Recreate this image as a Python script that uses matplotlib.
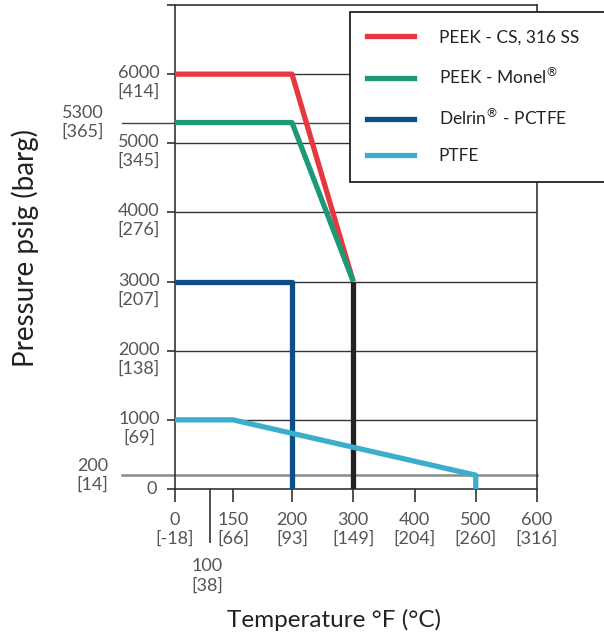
import numpy as np
import matplotlib.pyplot as plt
from matplotlib.lines import Line2D

plt.rcParams['font.family'] = ['Lato', 'DejaVu Sans']

# pressure (psig) vs temperature (F) ratings
peek_cs_temp = [0, 200, 300]
peek_cs_psi = [6000, 6000, 3000]
peek_monel_temp = [0, 200, 300]
peek_monel_psi = [5300, 5300, 3000]
peek_drop_temp = [300, 300]
peek_drop_psi = [3000, 0]
delrin_temp = [0, 200, 200]
delrin_psi = [3000, 3000, 0]
ptfe_temp = [0, 150, 500, 500]
ptfe_psi = [1000, 1000, 200, 0]

x_ticks_f = [0, 100, 150, 200, 300, 400, 500, 600]
x_ticks_c = [-18, 38, 66, 93, 149, 204, 260, 316]
y_ticks_psi = [1000, 2000, 3000, 4000, 5000, 6000]
y_ticks_bar = [69, 138, 207, 276, 345, 414]
extra_psi = [5300, 200]
extra_bar = [365, 14]

labels = ["PEEK - CS, 316 SS", r"PEEK - Monel$^{\circledR}$",
          r"Delrin$^{\circledR}$ - PCTFE", "PTFE"]
colors = ["#e8383f", "#1c9a78", "#0b4f86", "#3caecb"]

# the drawing squeezes the low end of the temperature axis
scale_temp = [-600, 0, 100, 150, 200, 600, 1200]
scale_pos = [-210, 0, 35, 58, 117, 362, 730]


def fwd(x):
    return np.interp(x, scale_temp, scale_pos)


def inv(p):
    return np.interp(p, scale_pos, scale_temp)


fig = plt.figure(figsize=(6.04, 6.40), dpi=100)
ax = fig.add_axes([175 / 604, 1 - 489 / 640, 362 / 604, 484 / 640])
ax.set_xscale('function', functions=(fwd, inv))
ax.set_xlim(0, 600)
ax.set_ylim(0, 7000)

# grid lines
for v in y_ticks_psi:
    ax.axhline(v, color="#333333", lw=1.0, zorder=1)
ax.axhline(5300, xmin=-0.146, xmax=1, color="#444444", lw=1.0, clip_on=False, zorder=1)
ax.axhline(200, xmin=-0.146, xmax=1, color="#8a8a8a", lw=1.8, clip_on=False, zorder=1)

lw = 3.8
ax.plot(peek_cs_temp, peek_cs_psi, color=colors[0], lw=lw, zorder=3, solid_capstyle='butt')
ax.plot(peek_monel_temp, peek_monel_psi, color=colors[1], lw=lw, zorder=3, solid_capstyle='butt')
ax.plot(peek_drop_temp, peek_drop_psi, color="#222222", lw=lw, zorder=3, solid_capstyle='butt')
ax.plot(delrin_temp, delrin_psi, color=colors[2], lw=lw, zorder=3, solid_capstyle='butt')
ax.plot(ptfe_temp, ptfe_psi, color=colors[3], lw=lw, zorder=3, solid_capstyle='butt')

for s in ax.spines.values():
    s.set_color("#333333")
    s.set_linewidth(1.2)

tick_col = "#555555"
fs = 13
ax.set_yticks(list(range(0, 7001, 1000)))
ax.set_yticklabels([])
ax.tick_params(axis='y', length=5.8, width=1.2, color="#333333")

xlabels = ["%d\n[%d]" % (f, c) for f, c in zip(x_ticks_f, x_ticks_c)]
xlabels[1] = ""
ax.set_xticks(x_ticks_f, xlabels)
ax.xaxis.set_minor_locator(plt.NullLocator())
ax.tick_params(axis='x', length=9.4, width=1.2, color="#333333",
               labelsize=fs, labelcolor=tick_col, pad=7)
ax.xaxis.get_major_ticks()[1].tick1line.set_markersize(39)
# 100F label sits below its long tick
ax.annotate("%d\n[%d]" % (x_ticks_f[1], x_ticks_c[1]), xy=(x_ticks_f[1], 0),
            xycoords=('data', 'axes fraction'), xytext=(-2, -50),
            textcoords='offset points', ha='center', va='top',
            fontsize=fs, color=tick_col)

# y labels, psi with bar below
for v, b in zip(y_ticks_psi, y_ticks_bar):
    ax.annotate("%d\n[%d]" % (v, b), xy=(0, v), xycoords=('axes fraction', 'data'),
                xytext=(-11, 6.5), textcoords='offset points', ha='right', va='top',
                multialignment='center', fontsize=fs, color=tick_col)
ax.annotate("0", xy=(0, 0), xycoords=('axes fraction', 'data'),
            xytext=(-13, 0), textcoords='offset points', ha='right', va='center',
            fontsize=fs, color=tick_col)
for v, b, dx in zip(extra_psi, extra_bar, [-51, -48]):
    ax.annotate("%d\n[%d]" % (v, b), xy=(0, v), xycoords=('axes fraction', 'data'),
                xytext=(dx, 0), textcoords='offset points', ha='right', va='center',
                multialignment='center', fontsize=fs, color=tick_col)

fig.text(25 / 604, 1 - 248 / 640, "Pressure psig (barg)", rotation=90,
         ha='center', va='center', fontsize=20, color="#222222")
fig.text(334 / 604, 1 - 620 / 640, "Temperature °F (°C)",
         ha='center', va='center', fontsize=17.5, color="#222222")

handles = [Line2D([], [], color=c, lw=lw) for c in colors]
leg = ax.legend(handles, labels, loc='upper left', mode='expand',
                bbox_to_anchor=(350 / 604, 1 - 180 / 640, 300 / 604, 168 / 640),
                bbox_transform=fig.transFigure, fontsize=12.5, frameon=True,
                fancybox=False, framealpha=1, edgecolor="#222222",
                handlelength=2.7, handletextpad=1.4, labelspacing=1.18,
                borderpad=1.0, borderaxespad=0)
leg.get_frame().set_linewidth(1.3)
leg.set_zorder(5)
for t in leg.get_texts():
    t.set_color("#222222")

fig.savefig("out.png", dpi=100)
